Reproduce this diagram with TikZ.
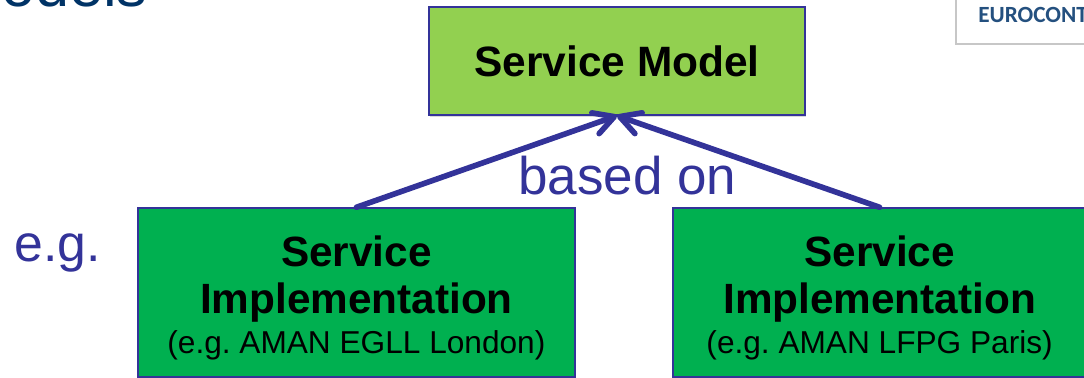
\documentclass[tikz,border=0pt]{standalone}
\usepackage{fontspec}
\setmainfont{Liberation Sans}
\newfontfamily\logofont{Carlito}
\usetikzlibrary{arrows.meta,shadows}
\definecolor{linkblue}{HTML}{333399}
\definecolor{titleblue}{HTML}{003366}
\definecolor{logoblue}{HTML}{24507F}
\definecolor{modelgreen}{HTML}{92D050}
\definecolor{implgreen}{HTML}{00B050}
\newcommand{\impltitle}{\fontsize{30.1pt}{36pt}\selectfont\bfseries}
\newcommand{\implsub}{\fontsize{22.5pt}{27pt}\selectfont}
\frenchspacing
\tikzset{
    greybox/.style={draw=linkblue, line width=1pt, minimum height=4.225cm, text=black, align=center, inner sep=0pt, drop shadow={shadow xshift=0.03cm, shadow yshift=-0.04cm, opacity=0.3}},
    based/.style={->, line width=4pt, draw=linkblue, line cap=round},
    bluetext/.style={text=linkblue, font=\fontsize{37.7pt}{44pt}\selectfont, inner sep=0pt}
}
\begin{document}
\begin{tikzpicture}[>={Straight Barb[round,length=0.5cm,width=0.55cm]}]
        \useasboundingbox (0,0) rectangle (27.1,9.45);
        \node (title) at (0.02,9.275) [anchor=base west, inner sep=0pt, text=titleblue, font=\fontsize{43.5pt}{50pt}\selectfont]{odels};
        \draw [draw=black!22, line width=1.2pt, fill=white](23.9,10) rectangle (27.4,8.35);
        \node (logo) at (24.45,8.875) [anchor=base west, inner sep=0pt, text=logoblue, font=\logofont\fontsize{16.5pt}{18pt}\selectfont\bfseries]{EUROCONTROL};
        \node (model) at (15.425,7.925) [greybox, fill=modelgreen, minimum width=9.4cm, minimum height=2.7cm, font=\fontsize{30.2pt}{36pt}\selectfont\bfseries]{Service Model};
        \node (impla) at (8.91,2.1375) [greybox, fill=implgreen, minimum width=10.925cm]{\rule{0pt}{1.05cm}\impltitle Service\\[0.36cm]\impltitle Implementation\\[0.18cm]\implsub (e.g. AMAN EGLL London)};
        \node (implb) at (21.99,2.1375) [greybox, fill=implgreen, minimum width=10.33cm]{\rule{0pt}{1.05cm}\impltitle Service\\[0.36cm]\impltitle Implementation\\[0.18cm]\implsub (e.g. AMAN LFPG Paris)};
        \draw [based](impla.north)--(model.south);
        \draw [based](implb.north)--(model.south);
        \node (basedon) at (15.68,4.575) [anchor=base, bluetext]{based on};
        \node (eg) at (0.35,2.9) [anchor=base west, bluetext, font=\fontsize{36.8pt}{44pt}\selectfont]{e.g.};
\end{tikzpicture}
\end{document}
